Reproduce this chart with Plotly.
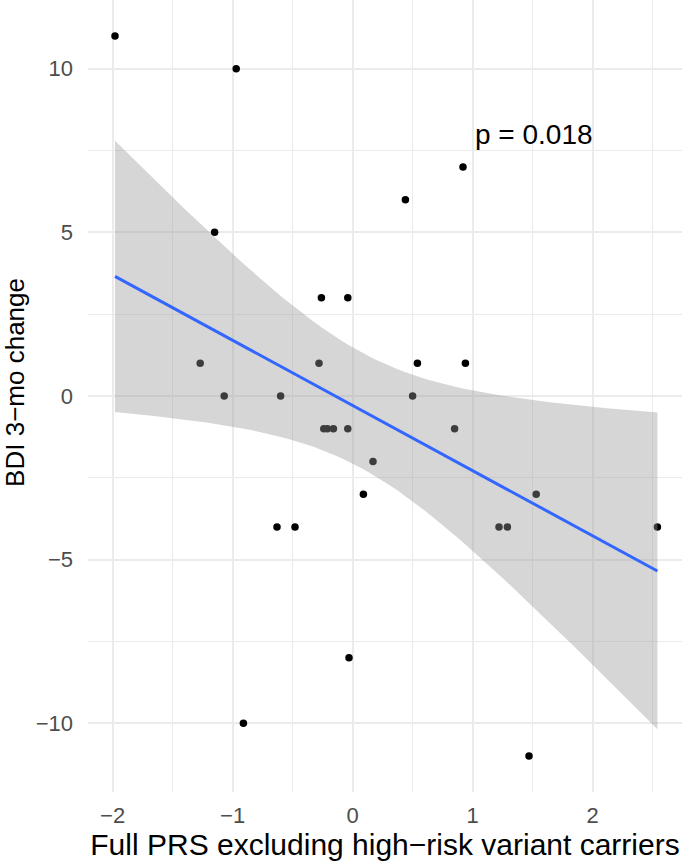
"""
BDI 3-month change vs full PRS (excluding high-risk variant carriers)
scatter + linear fit with 95% CI band, ggplot theme_minimal look
"""

import numpy as np
import plotly.graph_objects as go

# data
prs = [-1.98, -0.97, -1.15, 0.92, 0.44, -0.26, -0.04, -1.27, -0.28, 0.54,
       0.94, -1.07, -0.60, 0.50, -0.24, -0.21, -0.16, -0.04, 0.85, 0.17,
       0.09, 1.53, -0.63, -0.48, 1.22, 1.29, 2.54, -0.03, -0.91, 1.47]
bdi_change = [11, 10, 5, 7, 6, 3, 3, 1, 1, 1,
              1, 0, 0, 0, -1, -1, -1, -1, -1, -2,
              -3, -3, -4, -4, -4, -4, -4, -8, -10, -11]
x_ticks = [-2, -1, 0, 1, 2]
y_ticks = [-10, -5, 0, 5, 10]
p_label = "p = 0.018"

# linear fit + 95% confidence band (like geom_smooth(method = "lm"))
x = np.array(prs, dtype=float)
y = np.array(bdi_change, dtype=float)
n = len(x)
slope, intercept = np.polyfit(x, y, 1)
resid = y - (intercept + slope * x)
s = np.sqrt(np.sum(resid ** 2) / (n - 2))
t_crit = 2.048  # t(0.975, df = 28)
xs = np.linspace(x.min(), x.max(), 80)
fit = intercept + slope * xs
se = s * np.sqrt(1 / n + (xs - x.mean()) ** 2 / np.sum((x - x.mean()) ** 2))
upper = fit + t_crit * se
lower = fit - t_crit * se

fig = go.Figure()

# points first, band drawn on top (as ggplot does)
fig.add_trace(go.Scatter(
    x=prs, y=bdi_change, mode="markers",
    marker=dict(color="black", size=7.5),
    showlegend=False, hoverinfo="x+y"
))

fig.add_trace(go.Scatter(
    x=np.concatenate([xs, xs[::-1]]),
    y=np.concatenate([upper, lower[::-1]]),
    fill="toself", fillcolor="rgba(153,153,153,0.4)",
    line=dict(width=0), mode="lines",
    showlegend=False, hoverinfo="skip"
))

fig.add_trace(go.Scatter(
    x=xs, y=fit, mode="lines",
    line=dict(color="#3366FF", width=3),
    showlegend=False
))

fig.add_annotation(
    x=1.51, y=7.98, text=p_label, showarrow=False,
    font=dict(size=28, color="black")
)

# y title as annotation so it can sit slightly above the panel centre
fig.add_annotation(
    xref="paper", yref="paper", x=-0.124, y=0.517,
    text="BDI 3−mo change", textangle=-90, showarrow=False,
    xanchor="center", yanchor="middle", borderpad=0,
    font=dict(size=26, color="black")
)

grid = "#EBEBEB"
fig.update_layout(
    width=685, height=863,
    paper_bgcolor="white", plot_bgcolor="white",
    font=dict(family="Liberation Sans, Arial, sans-serif"),
    margin=dict(l=88, r=3, t=0, b=71),
    xaxis=dict(
        range=[-2.205, 2.745], tickvals=x_ticks, automargin=False,
        showgrid=True, gridcolor=grid, gridwidth=2.4,
        minor=dict(dtick=0.5, tick0=0, showgrid=True, gridcolor=grid, gridwidth=1.4),
        zeroline=False, showline=False, ticks="",
        tickfont=dict(size=22, color="#4D4D4D"), ticklabelstandoff=8,
        title=dict(text="Full PRS excluding high−risk variant carriers",
                   font=dict(size=30, color="black"), standoff=5),
    ),
    yaxis=dict(
        range=[-12.1, 12.1], tickvals=y_ticks, automargin=False,
        showgrid=True, gridcolor=grid, gridwidth=2.4,
        minor=dict(dtick=2.5, tick0=0, showgrid=True, gridcolor=grid, gridwidth=1.4),
        zeroline=False, showline=False, ticks="",
        tickfont=dict(size=22, color="#4D4D4D"), ticklabelstandoff=14,
    ),
)

# page body has an 8px default margin; drop it so the figure fills the window
fig.write_html("out.html", config={"displayModeBar": False},
               post_script="document.body.style.margin='0';")
